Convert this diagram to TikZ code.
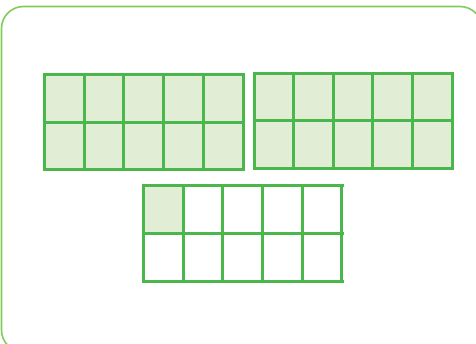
\documentclass[tikz,border=0pt]{standalone}
\definecolor{gridgreen}{RGB}{74,183,77}
\definecolor{cellfill}{RGB}{226,237,214}
\definecolor{framegreen}{RGB}{130,204,90}
\tikzset{
  gridline/.style={draw=gridgreen, line width=3pt},
  filledcell/.style={fill=cellfill},
  framebox/.style={draw=framegreen, line width=1.6pt, rounded corners=22pt},
}
\begin{document}
\begin{tikzpicture}[x=1pt,y=-1pt]
\useasboundingbox (0,0) rectangle (476,344);
\fill[white] (0,0) rectangle (476,344);
\draw[framebox] (1.5,6.5) rectangle (482,352);
% left grid, all filled
\fill[filledcell] (44.5,74.5) rectangle (243,170);
\foreach \i in {0,...,5} {\draw[gridline] ({44.5+\i*39.7},74.5) -- ({44.5+\i*39.7},170);}
\foreach \j in {0,1,2} {\draw[gridline] (43,{74.5+\j*47.75}) -- (244.5,{74.5+\j*47.75});}
% right grid, all filled
\fill[filledcell] (254,73.5) rectangle (452,168.5);
\foreach \i in {0,...,5} {\draw[gridline] ({254+\i*39.6},73.5) -- ({254+\i*39.6},168.5);}
\foreach \j in {0,1,2} {\draw[gridline] (252.5,{73.5+\j*47.5}) -- (453.5,{73.5+\j*47.5});}
% bottom grid, one filled cell
\fill[filledcell] (143.5,186) rectangle (183.2,234);
\foreach \i in {0,...,5} {\draw[gridline] ({143.5+\i*39.65},186) -- ({143.5+\i*39.65},281.5);}
\foreach \j in {0,1,2} {\draw[gridline] (142,{186+\j*47.75}) -- (343.75,{186+\j*47.75});}
\end{tikzpicture}
\end{document}
